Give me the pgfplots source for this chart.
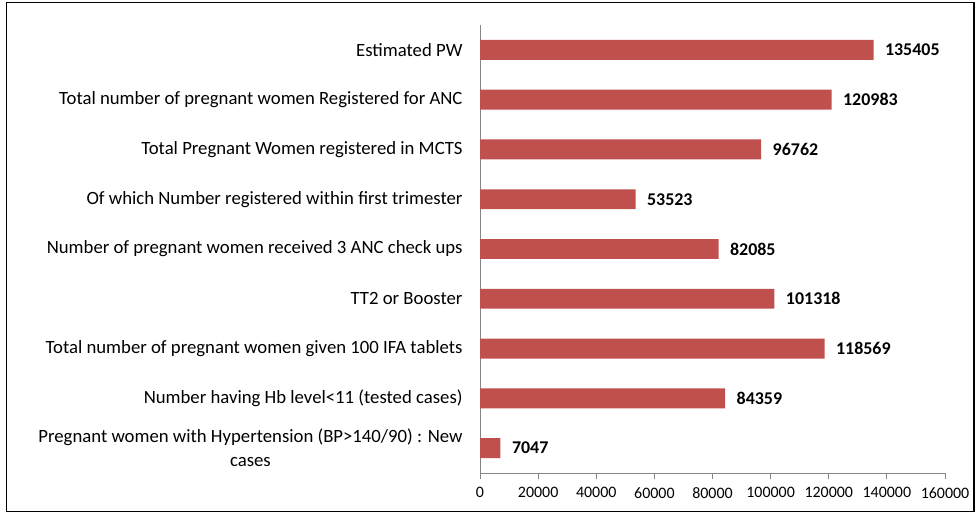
\documentclass[border=0pt]{standalone}
\usepackage{fontspec}
\setmainfont{Carlito}
\usepackage{pgfplots}
\pgfplotsset{compat=1.18}
\definecolor{barred}{HTML}{C0504D}
\definecolor{axgray}{HTML}{868686}

\begin{document}
\begin{tikzpicture}[x=1bp,y=1bp]
    \useasboundingbox (0,0) rectangle (976,513);
    \draw[line width=1.6bp, black] (6.5,1.5) rectangle (974,510.5);
    \begin{axis}[
        at={(480bp,40bp)}, anchor=south west,
        scale only axis,
        width=465bp, height=448bp,
        xmin=0, xmax=160000,
        ymin=-0.5, ymax=8.5,
        y dir=reverse,
        xbar, bar width=0.4,
        xtick={0,20000,...,160000},
        scaled x ticks=false,
        /pgf/number format/fixed,
        /pgf/number format/precision=0,
        /pgf/number format/1000 sep={},
        /pgf/number format/assume math mode=true,
        ytick={0,...,8},
        yticklabels={
            Estimated PW,
            Total number of pregnant women Registered for ANC,
            Total Pregnant Women registered in MCTS,
            Of which Number registered within first trimester,
            Number of pregnant women received 3 ANC check ups,
            TT2 or Booster,
            Total number of pregnant women given 100 IFA tablets,
            Number having Hb level<11 (tested cases),
            {Pregnant women with Hypertension (BP>140/90) : New\\cases}
        },
        yticklabel style={align=center, font=\fontsize{18.8}{24}\selectfont, xshift=-8bp},
        xticklabel style={font=\fontsize{16}{18}\selectfont, yshift=-5bp},
        y tick style={draw=none},
        x tick style={axgray, line width=0.8bp},
        tick align=outside,
        major tick length=6bp,
        extra y ticks={-0.5,0.5,...,8.5},
        extra y tick labels={},
        extra y tick style={tick style={axgray, line width=0.8bp}},
        axis x line*=bottom,
        axis y line*=left,
        axis line style={axgray, line width=0.8bp},
        nodes near coords,
        nodes near coords style={font=\fontsize{18}{21}\selectfont\bfseries, anchor=west, xshift=8bp},
        point meta=x,
    ]
        \addplot[fill=barred, draw=none] coordinates {
            (135405,0) (120983,1) (96762,2) (53523,3) (82085,4)
            (101318,5) (118569,6) (84359,7) (7047,8)
        };
    \end{axis}
\end{tikzpicture}
\end{document}
